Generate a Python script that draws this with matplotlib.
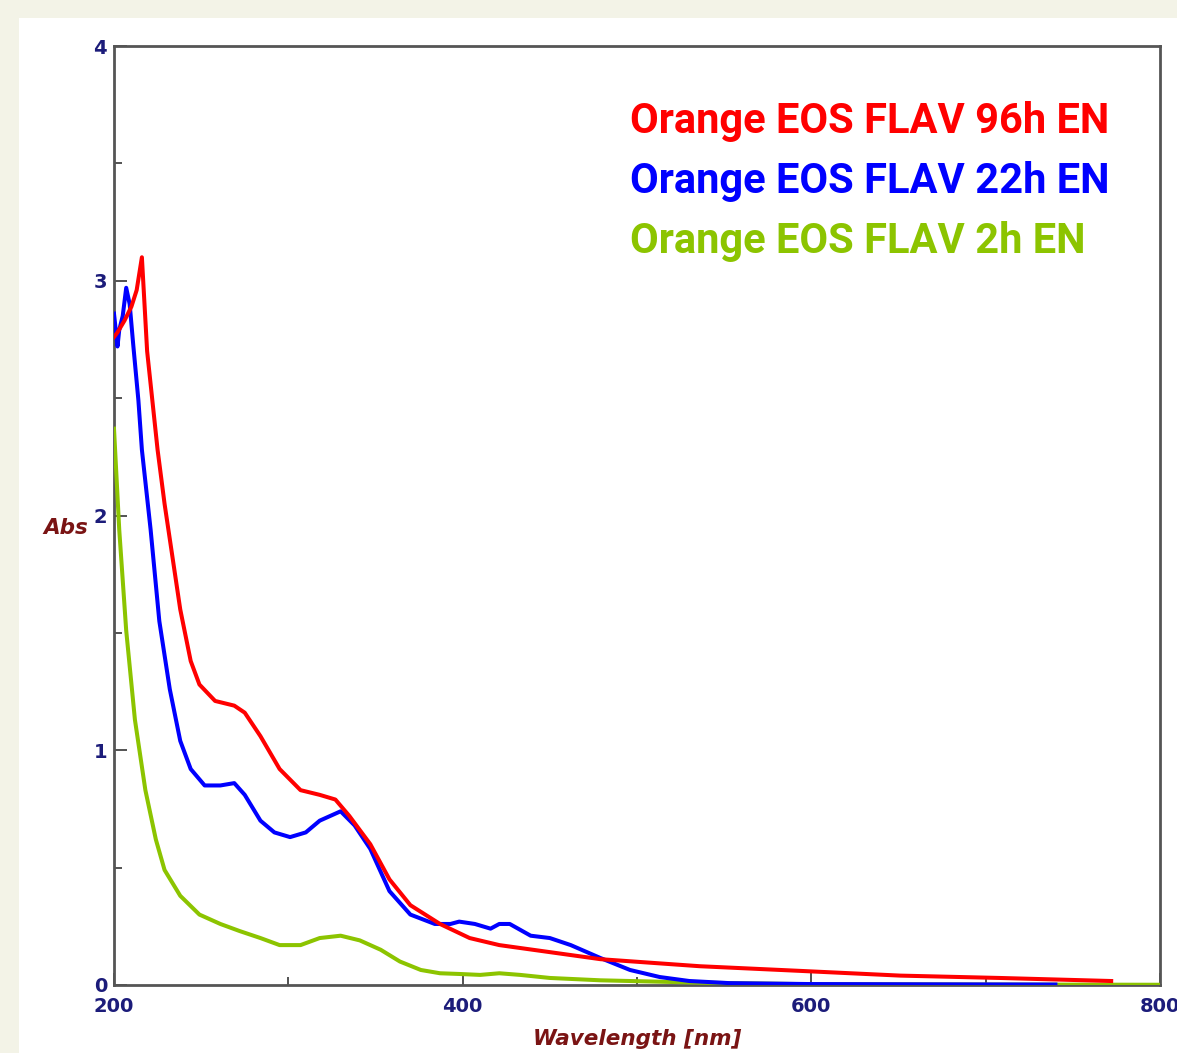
import matplotlib
matplotlib.use("Agg")
import matplotlib.pyplot as plt
from matplotlib.ticker import MultipleLocator
import matplotlib.patches as mpatches

# ---- data ----
red_x = [200, 202, 206, 210, 213, 216, 219, 222, 225, 229, 232, 238, 244, 249, 258, 269, 275, 284,
         295, 307, 318, 327, 335, 347, 358, 370, 387, 404, 421, 450, 479, 536, 594, 651, 708, 772]
red_y = [2.76, 2.78, 2.83, 2.89, 2.96, 3.10, 2.70, 2.49, 2.28, 2.05, 1.90, 1.60, 1.38, 1.28, 1.21,
         1.19, 1.16, 1.06, 0.92, 0.83, 0.81, 0.79, 0.72, 0.60, 0.45, 0.34, 0.26, 0.20, 0.17, 0.14,
         0.11, 0.08, 0.06, 0.04, 0.03, 0.017]

blue_x = [200, 202, 203, 205, 207, 209, 211, 214, 216, 221, 226, 232, 238, 244, 252, 261, 269, 275,
          284, 292, 301, 310, 318, 330, 338, 347, 358, 370, 384, 393, 398, 407, 416, 421, 427, 439,
          450, 462, 479, 496, 513, 530, 553, 600, 660, 740]
blue_y = [2.86, 2.72, 2.79, 2.85, 2.97, 2.90, 2.73, 2.49, 2.28, 1.94, 1.55, 1.26, 1.04, 0.92, 0.85,
          0.85, 0.86, 0.81, 0.70, 0.65, 0.63, 0.65, 0.70, 0.74, 0.68, 0.58, 0.40, 0.30, 0.26, 0.26,
          0.27, 0.26, 0.24, 0.26, 0.26, 0.21, 0.20, 0.17, 0.115, 0.064, 0.034, 0.017, 0.008, 0.004,
          0.003, 0.002]

green_x = [200, 203, 207, 212, 218, 224, 229, 238, 249, 261, 272, 284, 295, 307, 318, 330, 341, 353,
           364, 376, 387, 398, 410, 421, 433, 450, 479, 536, 594, 700, 800]
green_y = [2.37, 1.94, 1.51, 1.13, 0.83, 0.62, 0.49, 0.38, 0.30, 0.26, 0.23, 0.20, 0.17, 0.17, 0.20,
           0.21, 0.19, 0.15, 0.10, 0.064, 0.05, 0.047, 0.043, 0.05, 0.043, 0.03, 0.02, 0.01, 0.004,
           0.002, 0.001]

labels = ["Orange EOS FLAV 96h EN", "Orange EOS FLAV 22h EN", "Orange EOS FLAV 2h EN"]
colors = ["#ff0000", "#0000ff", "#8cc400"]
x_ticks = [200, 400, 600, 800]
y_ticks = [0, 1, 2, 3, 4]

# ---- figure ----
W, H = 1177, 1053
fig = plt.figure(figsize=(W / 100, H / 100), dpi=100)
fig.patch.set_facecolor("#f3f3e7")
fig.patches.append(mpatches.Rectangle((19 / W, 0), 1 - 19 / W, 1 - 18 / H,
                                      transform=fig.transFigure, facecolor="white",
                                      edgecolor="none", zorder=-10))

ax = fig.add_axes([114 / W, 1 - 985 / H, (1160 - 114) / W, (985 - 46) / H])
ax.set_zorder(1)
ax.set_facecolor("white")

# green first (bottom), then blue, then red on top
ax.plot(green_x, green_y, color=colors[2], lw=2.9, solid_joinstyle="round", zorder=3)
ax.plot(blue_x, blue_y, color=colors[1], lw=2.9, solid_joinstyle="round", zorder=4)
ax.plot(red_x, red_y, color=colors[0], lw=2.9, solid_joinstyle="round", zorder=5)

ax.set_xlim(200, 800)
ax.set_ylim(0, 4)
ax.set_xticks(x_ticks)
ax.set_yticks(y_ticks)
ax.xaxis.set_minor_locator(MultipleLocator(100))
ax.yaxis.set_minor_locator(MultipleLocator(0.5))

tick_col = "#1c1c7a"
ax.tick_params(axis="both", which="major", direction="in", length=9, width=1.3,
               color="#444444", labelcolor=tick_col, labelsize=14)
ax.tick_params(axis="both", which="minor", direction="in", length=6, width=1.3,
               color="#444444")
ax.tick_params(axis="x", pad=9)
ax.tick_params(axis="y", pad=5)
for lab in ax.get_xticklabels() + ax.get_yticklabels():
    lab.set_fontweight("bold")
    lab.set_family(["DejaVu Sans"])

for s in ax.spines.values():
    s.set_color("#555555")
    s.set_linewidth(2)

ax.set_xlabel("Wavelength [nm]", color="#7a1414", fontsize=15.5, fontstyle="italic",
              fontweight="bold", labelpad=9)
fig.text(88 / W, 1 - 528 / H, "Abs", color="#7a1414", fontsize=15.5, fontstyle="italic",
         fontweight="bold", ha="right", va="center")

fam = ["Roboto", "DejaVu Sans"]
for i, (lab, c) in enumerate(zip(labels, colors)):
    fig.text(630 / W, 1 - (122 + 60 * i) / H, lab, color=c, fontsize=30, fontweight="bold",
             family=fam, ha="left", va="center", zorder=5)

fig.savefig("out.png", dpi=100, facecolor=fig.get_facecolor())
